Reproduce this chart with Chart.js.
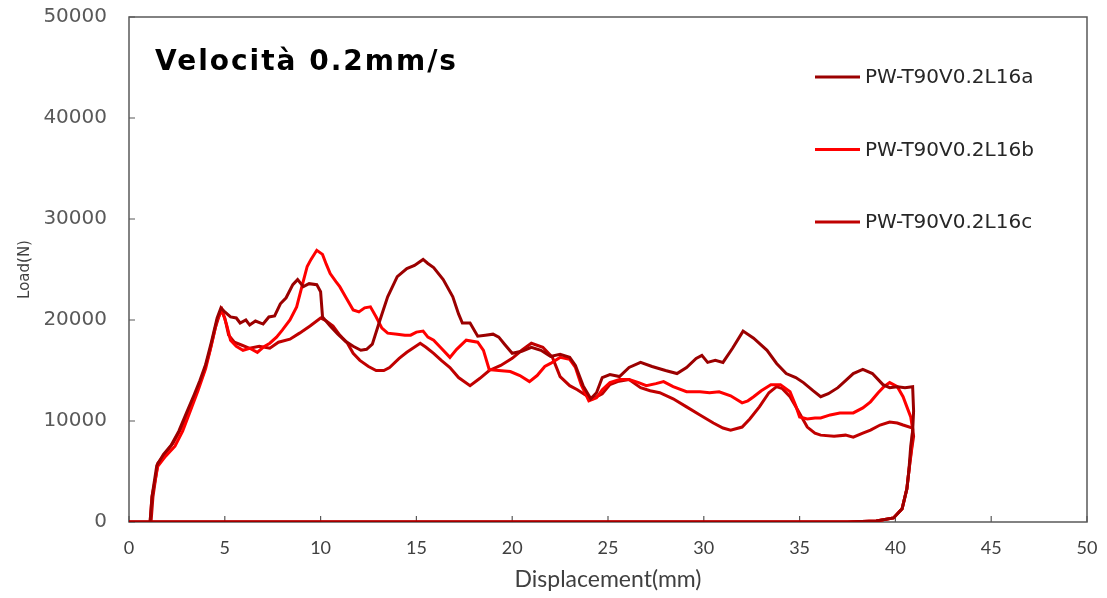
<!DOCTYPE html>
<html><head><meta charset="utf-8">
<script src="https://cdn.jsdelivr.net/npm/chart.js@4.4.0/dist/chart.umd.min.js"></script>
<style>html,body{margin:0;padding:0;background:#fff}#wrap{width:1107px;height:598px;position:relative}</style>
</head><body><div id="wrap"><canvas id="c" width="1107" height="598"></canvas></div>
<script>
const chartTitle = 'Velocità 0.2mm/s';
const xAxisTitle = 'Displacement(mm)';
const yAxisTitle = 'Load(N)';
const xTicks = [0,5,10,15,20,25,30,35,40,45,50];
const yTicks = [0,10000,20000,30000,40000,50000];
const seriesNames = ['PW-T90V0.2L16a','PW-T90V0.2L16b','PW-T90V0.2L16c'];
const seriesColors = ['#9B0000','#FF0000','#C00000'];

// [displacement mm, load N]
const curveA = [[0,0],[1.1,0],[1.2,2500],[1.45,5600],[1.8,6700],[2.2,7600],[2.6,9000],[3.0,10800],[3.4,12600],[3.7,14000],[4.0,15600],[4.3,17800],[4.6,20200],[4.8,21200],[5.0,20800],[5.3,20300],[5.6,20200],[5.8,19700],[6.1,20000],[6.3,19500],[6.6,19900],[7.0,19600],[7.3,20300],[7.6,20400],[7.9,21600],[8.2,22200],[8.55,23500],[8.8,24000],[9.1,23300],[9.4,23600],[9.8,23500],[10.0,22800],[10.1,20300],[10.5,19400],[10.9,18600],[11.3,17900],[11.7,17400],[12.1,17000],[12.4,17100],[12.7,17600],[13.1,20000],[13.5,22300],[14.0,24300],[14.5,25100],[14.9,25400],[15.35,26000],[15.6,25600],[15.9,25200],[16.4,24000],[16.9,22300],[17.2,20600],[17.4,19700],[17.8,19700],[18.2,18400],[18.6,18500],[19.0,18600],[19.3,18300],[19.6,17600],[20.0,16700],[20.5,16900],[21.0,17300],[21.5,17000],[22.0,16400],[22.5,16600],[23.0,16300],[23.3,15500],[23.7,13500],[24.1,12200],[24.4,12800],[24.7,14300],[25.1,14600],[25.6,14400],[26.1,15300],[26.7,15800],[27.3,15400],[28.0,15000],[28.6,14700],[29.1,15300],[29.6,16200],[29.9,16500],[30.2,15800],[30.6,16000],[31.0,15800],[31.5,17200],[32.05,18900],[32.6,18200],[33.3,17000],[33.8,15700],[34.3,14700],[34.8,14300],[35.2,13800],[35.7,13000],[36.1,12400],[36.5,12700],[37.0,13300],[37.4,14000],[37.8,14700],[38.3,15100],[38.8,14700],[39.35,13600],[39.7,13300],[40.1,13400],[40.5,13300],[40.9,13400],[40.95,11000],[40.9,9000],[40.8,7500],[40.7,5000],[40.6,3300],[40.35,1300],[39.9,400],[39.0,100],[37.5,0],[0,0]];

const curveB = [[0,0],[1.1,0],[1.2,2500],[1.5,5500],[1.9,6500],[2.4,7500],[2.8,9000],[3.2,11000],[3.6,13000],[4.0,15200],[4.3,17500],[4.6,20000],[4.85,21000],[5.1,19500],[5.3,18000],[5.6,17400],[5.95,17000],[6.3,17200],[6.7,16800],[7.0,17300],[7.35,17700],[7.7,18300],[8.0,19000],[8.4,20000],[8.75,21300],[9.05,23500],[9.3,25300],[9.5,26000],[9.8,26900],[10.1,26500],[10.3,25500],[10.5,24600],[10.8,23800],[11.0,23300],[11.3,22300],[11.7,21000],[12.0,20800],[12.3,21200],[12.6,21300],[12.9,20300],[13.2,19200],[13.5,18700],[14.0,18600],[14.4,18500],[14.7,18500],[15.0,18800],[15.35,18900],[15.6,18300],[15.9,18000],[16.3,17200],[16.75,16300],[17.1,17100],[17.6,18000],[18.2,17800],[18.5,17000],[18.8,15100],[19.3,15000],[19.9,14900],[20.4,14500],[20.9,13900],[21.3,14500],[21.7,15400],[22.0,15700],[22.5,16300],[23.0,16100],[23.3,15300],[23.6,13600],[24.0,12000],[24.4,12300],[24.7,13100],[25.1,13800],[25.6,14100],[26.1,14100],[26.6,13800],[27.0,13500],[27.5,13700],[27.9,13900],[28.4,13400],[29.1,12900],[29.8,12900],[30.3,12800],[30.8,12900],[31.4,12500],[32.0,11800],[32.3,12000],[32.6,12400],[33.0,13000],[33.5,13600],[34.0,13600],[34.5,12900],[34.8,11500],[35.0,10400],[35.4,10200],[35.8,10300],[36.1,10300],[36.6,10600],[37.1,10800],[37.8,10800],[38.3,11300],[38.7,11900],[39.1,12800],[39.4,13400],[39.7,13800],[40.1,13400],[40.4,12400],[40.6,11400],[40.8,10400],[40.9,9200],[40.85,7500],[40.7,5000],[40.6,3300],[40.35,1300],[39.9,400],[39.0,100],[37.5,0],[0,0]];

const curveC = [[0,0],[1.15,0],[1.25,2500],[1.5,5800],[1.9,6800],[2.3,7800],[2.7,9200],[3.1,11000],[3.5,12800],[3.9,14800],[4.2,16800],[4.5,19200],[4.8,21000],[5.0,20200],[5.2,18500],[5.5,17800],[5.9,17500],[6.3,17200],[6.8,17400],[7.35,17200],[7.8,17800],[8.4,18100],[8.9,18700],[9.45,19400],[10.0,20200],[10.3,19900],[10.65,19400],[11.0,18500],[11.4,17700],[11.7,16700],[12.05,16000],[12.5,15400],[12.9,15000],[13.3,15000],[13.6,15300],[14.1,16200],[14.5,16800],[15.2,17700],[15.5,17300],[15.9,16700],[16.3,16000],[16.75,15300],[17.2,14300],[17.8,13500],[18.3,14200],[18.8,15000],[19.4,15500],[20.0,16200],[20.5,17000],[21.0,17700],[21.6,17300],[22.1,16300],[22.5,14400],[23.0,13500],[23.4,13100],[23.8,12600],[24.2,12200],[24.7,12700],[25.1,13600],[25.5,13900],[26.1,14100],[26.7,13300],[27.2,13000],[27.7,12800],[28.4,12200],[29.1,11400],[29.8,10600],[30.5,9800],[31.0,9300],[31.4,9100],[32.0,9400],[32.4,10200],[32.9,11400],[33.4,12800],[33.8,13400],[34.1,13200],[34.5,12400],[34.9,11100],[35.4,9400],[35.8,8800],[36.1,8600],[36.8,8500],[37.4,8600],[37.8,8400],[38.3,8800],[38.7,9100],[39.2,9600],[39.7,9900],[40.1,9800],[40.4,9600],[40.9,9300],[40.95,8500],[40.85,7200],[40.7,5000],[40.6,3300],[40.35,1300],[39.9,400],[39.0,100],[37.5,0],[0,0]];

const curves = [curveA, curveB, curveC];

const AXIS_COLOR = '#595959';

const framePlugin = {
  id: 'frame',
  beforeDatasetsDraw(chart) {
    const {ctx, chartArea: a, scales} = chart;
    ctx.save();
    ctx.strokeStyle = AXIS_COLOR;
    ctx.lineWidth = 1.5;
    ctx.strokeRect(a.left, a.top, a.right - a.left, a.bottom - a.top);
    ctx.lineWidth = 1.2;
    ctx.beginPath();
    scales.x.ticks.forEach((t, i) => {
      const px = scales.x.getPixelForTick(i);
      ctx.moveTo(px, a.bottom); ctx.lineTo(px, a.bottom - 6);
    });
    scales.y.ticks.forEach((t, i) => {
      const py = scales.y.getPixelForTick(i);
      ctx.moveTo(a.left, py); ctx.lineTo(a.left + 6, py);
    });
    ctx.stroke();
    ctx.restore();
  },
  afterDraw(chart) {
    const {ctx, chartArea: a} = chart;
    ctx.save();
    ctx.fillStyle = '#000';
    ctx.font = 'bold 28px "DejaVu Sans"';
    ctx.letterSpacing = '2px';
    ctx.textBaseline = 'alphabetic';
    ctx.textAlign = 'left';
    ctx.fillText(chartTitle, a.left + 26, a.top + 53);
    ctx.letterSpacing = '0px';
    ctx.font = '20px "DejaVu Sans"';
    ctx.textBaseline = 'middle';
    chart.data.datasets.forEach((ds, i) => {
      const y = a.top + 60 + i * 72.5;
      const x0 = a.right - 272;
      ctx.strokeStyle = ds.borderColor;
      ctx.lineWidth = 3;
      ctx.beginPath(); ctx.moveTo(x0, y); ctx.lineTo(x0 + 45, y); ctx.stroke();
      ctx.fillStyle = '#262626';
      ctx.fillText(ds.label, x0 + 50, y + 1);
    });
    ctx.restore();
  }
};

new Chart(document.getElementById('c'), {
  type: 'scatter',
  data: {
    datasets: curves.map((c, i) => ({
      label: seriesNames[i],
      data: c.map(p => ({x: p[0], y: p[1]})),
      showLine: true,
      borderColor: seriesColors[i],
      backgroundColor: seriesColors[i],
      borderWidth: 3,
      pointRadius: 0,
      tension: 0,
      fill: false
    }))
  },
  options: {
    responsive: false,
    animation: false,
    devicePixelRatio: 1,
    layout: {padding: {top: 0, right: 20, left: 0, bottom: 0}},
    plugins: {legend: {display: false}, tooltip: {enabled: false}, title: {display: false}},
    scales: {
      x: {
        type: 'linear', min: 0, max: 50,
        afterBuildTicks: s => { s.ticks = xTicks.map(v => ({value: v})); },
        afterFit: s => { s.height = 76; },
        grid: {display: false},
        border: {display: false},
        ticks: {padding: 7, color: '#404040', font: {family: 'Lato', size: 18}},
        title: {display: true, text: xAxisTitle, color: '#404040', font: {family: 'Lato', size: 23}, padding: {top: 0, bottom: 5}}
      },
      y: {
        type: 'linear', min: 0, max: 50000,
        afterBuildTicks: s => { s.ticks = yTicks.map(v => ({value: v})); },
        afterFit: s => { s.width = 129; s.paddingTop = 17; s.paddingBottom = 17; },
        grid: {display: false},
        border: {display: false},
        ticks: {padding: 14, color: '#595959', font: {family: 'DejaVu Sans', size: 20}, callback: v => String(v)},
        title: {display: true, text: yAxisTitle, color: '#404040', font: {family: 'DejaVu Sans', size: 15}, padding: {top: 16, bottom: 0}}
      }
    }
  },
  plugins: [framePlugin]
});
</script></body></html>
